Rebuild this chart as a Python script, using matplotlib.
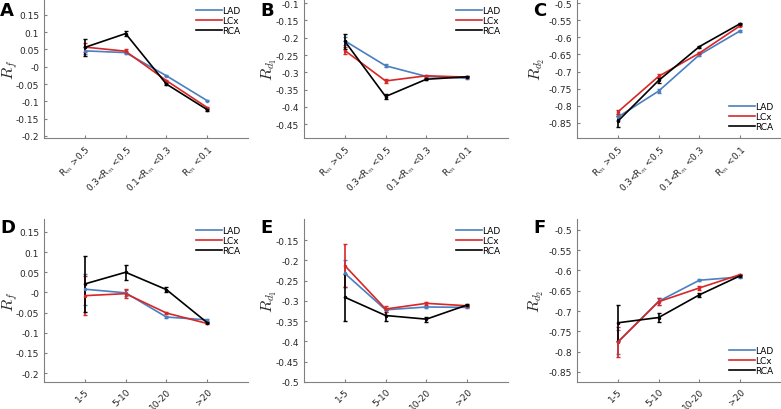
import numpy as np
import matplotlib
matplotlib.use("Agg")
import matplotlib.pyplot as plt
from matplotlib.lines import Line2D

plt.rcParams['mathtext.fontset'] = 'cm'

vessels = ['LAD', 'LCx', 'RCA']
colors = ['#4a7fc0', '#d92626', '#000000']

rm_labels = ['R$_m$ >0.5', '0.3<R$_m$ <0.5', '0.1<R$_m$ <0.3', 'R$_m$ <0.1']
age_labels = ['1-5', '5-10', '10-20', '>20']

# top row: grouped by R_m
A_mean = [[0.046, 0.041, -0.026, -0.098],
          [0.057, 0.045, -0.040, -0.118],
          [0.056, 0.096, -0.050, -0.124]]
A_err = [[0.010, 0.004, 0.002, 0.002],
         [0.013, 0.005, 0.003, 0.002],
         [0.025, 0.008, 0.004, 0.003]]

B_mean = [[-0.209, -0.281, -0.312, -0.317],
          [-0.237, -0.325, -0.310, -0.314],
          [-0.210, -0.370, -0.320, -0.313]]
B_err = [[0.012, 0.005, 0.002, 0.002],
         [0.010, 0.006, 0.002, 0.002],
         [0.022, 0.008, 0.003, 0.002]]

C_mean = [[-0.833, -0.757, -0.651, -0.581],
          [-0.818, -0.714, -0.646, -0.566],
          [-0.845, -0.726, -0.627, -0.560]]
C_err = [[0.008, 0.005, 0.003, 0.002],
         [0.007, 0.006, 0.003, 0.002],
         [0.016, 0.007, 0.003, 0.002]]

# bottom row: grouped by age
D_mean = [[0.008, -0.001, -0.061, -0.068],
          [-0.008, -0.003, -0.051, -0.077],
          [0.021, 0.050, 0.007, -0.075]]
D_err = [[0.038, 0.008, 0.003, 0.002],
         [0.049, 0.011, 0.003, 0.002],
         [0.070, 0.019, 0.007, 0.002]]

E_mean = [[-0.232, -0.322, -0.315, -0.316],
          [-0.213, -0.320, -0.306, -0.312],
          [-0.291, -0.336, -0.345, -0.310]]
E_err = [[0.034, 0.005, 0.003, 0.002],
         [0.053, 0.007, 0.004, 0.002],
         [0.058, 0.014, 0.006, 0.003]]

F_mean = [[-0.776, -0.676, -0.624, -0.616],
          [-0.777, -0.677, -0.643, -0.610],
          [-0.729, -0.716, -0.660, -0.613]]
F_err = [[0.030, 0.008, 0.003, 0.002],
         [0.037, 0.009, 0.004, 0.002],
         [0.045, 0.011, 0.005, 0.002]]

panels = [
    ('A', A_mean, A_err, rm_labels, r'$R_f$', (-0.206, 0.196), np.arange(-0.2, 0.151, 0.05), 'upper right'),
    ('B', B_mean, B_err, rm_labels, r'$R_{d_1}$', (-0.49, -0.088), np.arange(-0.45, -0.099, 0.05), 'upper right'),
    ('C', C_mean, C_err, rm_labels, r'$R_{d_2}$', (-0.894, -0.488), np.arange(-0.85, -0.499, 0.05), 'lower right'),
    ('D', D_mean, D_err, age_labels, r'$R_f$', (-0.222, 0.182), np.arange(-0.2, 0.151, 0.05), 'upper right'),
    ('E', E_mean, E_err, age_labels, r'$R_{d_1}$', (-0.5, -0.098), np.arange(-0.5, -0.149, 0.05), 'upper right'),
    ('F', F_mean, F_err, age_labels, r'$R_{d_2}$', (-0.875, -0.473), np.arange(-0.85, -0.499, 0.05), 'lower right'),
]

fig = plt.figure(figsize=(7.81, 4.10), dpi=100)
lefts = [44 / 781, 304 / 781, 577 / 781]
width = 204 / 781
rows = [(271 / 410, 139 / 410), (27 / 410, 163 / 410)]
ylab_x = [-0.12, -0.122, -0.145, -0.12, -0.122, -0.15]
letter_x = [0, 260, 533, 0, 260, 533]
letter_y = [2, 2, 2, 219, 219, 219]

x = np.arange(1, 5)
for i, (letter, means, errs, labels, ylab, ylim, yt, loc) in enumerate(panels):
    b, h = rows[i // 3]
    ax = fig.add_axes([lefts[i % 3], b, width, h])
    for m, e, c in zip(means, errs, colors):
        ax.errorbar(x, m, yerr=e, color=c, lw=1.2, elinewidth=1.2,
                    capsize=1.5, marker='.', ms=3)
    ax.set_xlim(0, 5)
    ax.set_ylim(*ylim)
    ax.set_yticks(yt)
    ax.set_yticklabels(['%g' % round(v, 2) for v in yt])
    ax.set_xticks(x)
    ax.set_xticklabels(labels, rotation=45, ha='right', rotation_mode='anchor')
    ax.tick_params(direction='in', length=2, labelsize=6.5, colors='#808080',
                   labelcolor='#262626')
    for s in ['top', 'right']:
        ax.spines[s].set_visible(False)
    for s in ['left', 'bottom']:
        ax.spines[s].set_color('#808080')
        ax.spines[s].set_linewidth(0.8)
    ax.set_ylabel(ylab, fontsize=11.5, color='#262626')
    ax.yaxis.set_label_coords(ylab_x[i], 0.5)
    handles = [Line2D([], [], color=c, lw=1.2) for c in colors]
    ax.legend(handles, vessels, loc=loc, frameon=False, fontsize=6.5,
              handlelength=2.8, handletextpad=0.1, labelspacing=0.1,
              borderaxespad=0.4)
    fig.text(letter_x[i] / 781, 1 - letter_y[i] / 410, letter, fontsize=13,
             fontweight='bold', va='top', ha='left')

fig.savefig('out.png', dpi=100)
